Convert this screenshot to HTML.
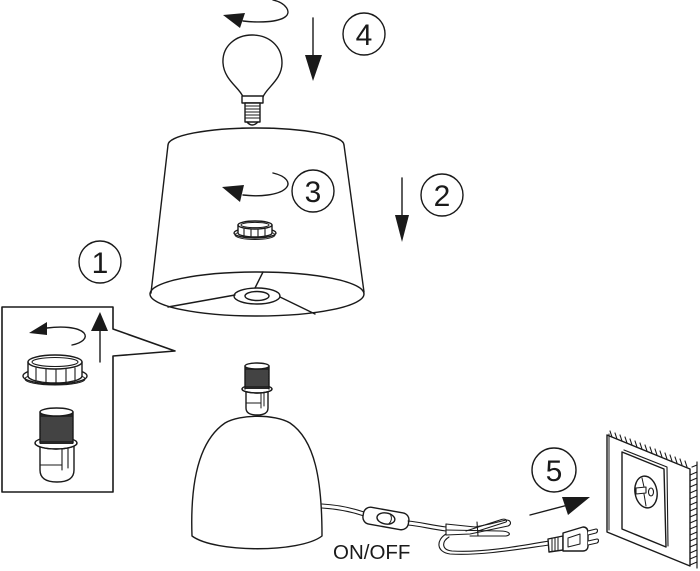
<!DOCTYPE html>
<html><head><meta charset="utf-8"><style>
html,body{margin:0;padding:0;background:#fff;}
svg{display:block;}
text{font-family:"Liberation Sans",sans-serif;fill:#1a1a1a;}
</style></head><body>
<svg width="700" height="571" viewBox="0 0 700 571" xmlns="http://www.w3.org/2000/svg">
<g fill="none" stroke="#1a1a1a" stroke-width="1.4" stroke-linejoin="round" stroke-linecap="round">

<!-- ===== Bulb ===== -->
<path d="M243,97 C240,88 224,80 223,63 C222,46 236,35 252,35 C269,35 282,46 282,63 C282,80 266,88 263,97 Z" fill="#fff"/>
<rect x="242" y="96" width="21" height="7" fill="#fff"/>
<rect x="245" y="103" width="15" height="19" fill="#fff"/>
<g stroke-width="1.1">
<line x1="245" y1="106" x2="260" y2="106"/><line x1="245" y1="109" x2="260" y2="109"/>
<line x1="245" y1="112" x2="260" y2="112"/><line x1="245" y1="115" x2="260" y2="115"/>
<line x1="245" y1="118" x2="260" y2="118"/>
</g>
<path d="M247,122 Q252,128 258,122"/>

<!-- rotate arrow top -->
<path d="M273,0 C286,3 292,12 285,17 C278,22 260,23 243,21"/>
<polygon points="223,15 245,13 240,28" fill="#1a1a1a" stroke="none"/>

<!-- arrow 4 -->
<line x1="313" y1="18" x2="313" y2="58"/>
<polygon points="305,55 322,55 313,81" fill="#1a1a1a" stroke="none"/>
<circle cx="364" cy="34" r="21"/>

<!-- ===== Shade ===== -->
<path d="M168,145 A88,17 0 0 1 344,145"/>
<line x1="168" y1="145" x2="151" y2="293"/>
<line x1="344" y1="145" x2="364" y2="292"/>
<ellipse cx="257" cy="294" rx="107" ry="22"/>
<ellipse cx="257" cy="296" rx="23" ry="8"/>
<ellipse cx="257" cy="296" rx="12" ry="4.5"/>
<line x1="255" y1="288" x2="263" y2="272"/>
<line x1="235" y1="295" x2="168" y2="307"/>
<line x1="280" y1="297" x2="315" y2="314"/>

<!-- ring nut on shade -->
<ellipse cx="255" cy="233" rx="21" ry="5" fill="#fff"/>
<ellipse cx="255" cy="235" rx="20" ry="4.5" stroke-width="1"/>
<path d="M238,225 L238,233 A17,4 0 0 0 272,233 L272,225" fill="#fff"/>
<ellipse cx="255" cy="225" rx="17" ry="4" fill="#fff"/>
<ellipse cx="255" cy="225" rx="14" ry="2.6" stroke-width="1"/>
<g stroke-width="1.1">
<line x1="244" y1="229" x2="244" y2="236"/><line x1="251" y1="229" x2="251" y2="237"/>
<line x1="258" y1="229" x2="258" y2="237"/><line x1="265" y1="229" x2="265" y2="236"/>
</g>

<!-- rotate arrow 3 -->
<path d="M273,173 C286,176 292,183 285,189 C278,195 260,197 243,195"/>
<polygon points="222,187 244,185 240,202" fill="#1a1a1a" stroke="none"/>
<circle cx="313" cy="191" r="21"/>

<!-- arrow 2 -->
<line x1="402" y1="178" x2="402" y2="218"/>
<polygon points="395,215 409,215 402,242" fill="#1a1a1a" stroke="none"/>
<circle cx="442" cy="195" r="21"/>

<!-- circle 1 -->
<circle cx="100" cy="262" r="21"/>

<!-- ===== Callout box ===== -->
<path d="M2,307 L113,307 L113,329 L175,351 L113,356 L113,492 L2,492 Z" stroke-width="1.6"/>
<line x1="100" y1="362" x2="100" y2="330"/>
<polygon points="100,312 91,331 108,331" fill="#1a1a1a" stroke="none"/>
<path d="M72,345 C82,343 88,338 84,333 C78,327 62,326 47,328"/>
<polygon points="29,333 47,322 47,335" fill="#1a1a1a" stroke="none"/>

<!-- ring nut in box -->
<ellipse cx="55" cy="376" rx="32" ry="8" fill="#fff"/>
<ellipse cx="55" cy="379" rx="30" ry="6" stroke-width="1"/>
<path d="M28,362 L28,376 A27,7 0 0 0 82,376 L82,362" fill="#fff"/>
<ellipse cx="55" cy="362" rx="27" ry="7" fill="#fff"/>
<ellipse cx="55" cy="362" rx="23" ry="4.5" stroke-width="1.1"/>
<g stroke-width="1.1">
<line x1="36" y1="368" x2="36" y2="380"/><line x1="46" y1="369" x2="46" y2="382"/>
<line x1="56" y1="369" x2="56" y2="383"/><line x1="66" y1="369" x2="66" y2="382"/>
<line x1="75" y1="368" x2="75" y2="380"/>
</g>

<!-- socket in box -->
<path d="M40,445 L40,470 C40,478 46,482 57,482 C68,482 74,478 74,470 L74,445" fill="#fff"/>
<line x1="40" y1="465" x2="62" y2="465" stroke-width="1.1"/>
<line x1="62" y1="447" x2="62" y2="470" stroke-width="1.1"/>
<line x1="68" y1="447" x2="68" y2="468" stroke-width="1.1"/>
<ellipse cx="56" cy="443" rx="21" ry="6" fill="#fff"/>
<rect x="40" y="412" width="33" height="32" fill="#262626" stroke="none"/>
<line x1="40" y1="412" x2="40" y2="443"/><line x1="73" y1="412" x2="73" y2="443"/>
<g stroke="#9a9a9a" stroke-width="0.6">
<line x1="41" y1="418" x2="72" y2="418"/><line x1="41" y1="420" x2="72" y2="420"/>
<line x1="41" y1="422" x2="72" y2="422"/><line x1="41" y1="424" x2="72" y2="424"/>
<line x1="41" y1="426" x2="72" y2="426"/><line x1="41" y1="428" x2="72" y2="428"/>
<line x1="41" y1="430" x2="72" y2="430"/><line x1="41" y1="432" x2="72" y2="432"/>
<line x1="41" y1="434" x2="72" y2="434"/><line x1="41" y1="436" x2="72" y2="436"/>
<line x1="41" y1="438" x2="72" y2="438"/><line x1="41" y1="440" x2="72" y2="440"/>
</g>
<path d="M35,443 A21,6 0 0 0 77,443" fill="none"/>
<ellipse cx="56.5" cy="412" rx="16.5" ry="4" fill="#fff"/>

<!-- ===== Lamp base ===== -->
<path d="M192,536 C190,480 200,440 225,423 C240,414 275,414 290,423 C315,440 322,480 322,536 C300,553 215,553 192,536 Z" fill="#fff"/>

<!-- socket on base -->
<path d="M246,391 L246,408 C246,413 250,415 257,415 C264,415 268,413 268,408 L268,391" fill="#fff"/>
<line x1="261" y1="392" x2="261" y2="408" stroke-width="1"/>
<line x1="264" y1="392" x2="264" y2="406" stroke-width="1"/>
<line x1="246" y1="403" x2="261" y2="403" stroke-width="1"/>
<ellipse cx="257" cy="389" rx="15" ry="4" fill="#fff"/>
<rect x="245" y="366" width="24" height="23" fill="#262626" stroke="none"/>
<line x1="245" y1="366" x2="245" y2="389"/><line x1="269" y1="366" x2="269" y2="389"/>
<g stroke="#9a9a9a" stroke-width="0.6">
<line x1="246" y1="371" x2="268" y2="371"/><line x1="246" y1="373" x2="268" y2="373"/>
<line x1="246" y1="375" x2="268" y2="375"/><line x1="246" y1="377" x2="268" y2="377"/>
<line x1="246" y1="379" x2="268" y2="379"/><line x1="246" y1="381" x2="268" y2="381"/>
<line x1="246" y1="383" x2="268" y2="383"/><line x1="246" y1="385" x2="268" y2="385"/>
</g>
<path d="M242,389 A15,4 0 0 0 272,389"/>
<ellipse cx="257" cy="366" rx="12" ry="3" fill="#fff"/>

<!-- cord to switch -->
<g stroke-width="1.1">
<path d="M322,504 C340,505 352,508 364,512"/>
<path d="M322,508 C340,509 352,512 364,516"/>
</g>
<!-- switch -->
<g transform="rotate(10 386 518)">
<rect x="363" y="510" width="46" height="17" rx="7" fill="#fff"/>
<ellipse cx="386" cy="518.5" rx="9" ry="5.5"/>
<path d="M390,514 Q393,518.5 390,523" stroke-width="1"/>
</g>
<!-- cord switch -> bundle -->
<g stroke-width="1.1">
<path d="M408,521 C420,522 430,525 446,527"/>
<path d="M408,525 C420,526 430,529 446,531"/>
</g>
<!-- bundle -->
<g stroke-width="1.1">
<path d="M446,524 L475,527 L490,524 L506,520 C511,520 512,524 508,526 L470,534 L446,535"/>
<path d="M446,530 L500,531 C510,531 512,535 506,536 L470,536"/>
<path d="M466,531 L500,520 C505,518 508,520 506,522 L478,531"/>
<line x1="446" y1="524" x2="446" y2="535"/>
<line x1="477" y1="522" x2="478" y2="536"/>
</g>
<!-- loop to plug -->
<g stroke-width="1.1">
<path d="M446,534 C436,540 436,552 450,554 C480,556 520,549 549,545"/>
<path d="M449,537 C441,542 442,550 452,551 C482,553 520,546 549,541"/>
</g>
<!-- plug -->
<path d="M548,539 L563,536 L563,550 L549,552 Z" fill="#fff"/>
<g stroke-width="1">
<line x1="552" y1="538" x2="552" y2="551"/><line x1="555" y1="538" x2="555" y2="551"/>
<line x1="558" y1="537" x2="558" y2="550"/>
</g>
<path d="M563,533 L583,527 C587,527 588,530 588,533 L588,546 C588,549 586,551 583,551 L563,551 Z" fill="#fff"/>
<path d="M568,538 L580,534 L580,544 L568,547 Z" stroke-width="1"/>
<path d="M588,531 L596,529 C598,529 598,532 596,533 L588,535" fill="#fff" stroke-width="1.1"/>
<path d="M588,541 L597,539 C599,539 599,542 597,543 L588,545" fill="#fff" stroke-width="1.1"/>

<!-- arrow 5 -->
<line x1="530" y1="515" x2="568" y2="505"/>
<polygon points="590,497 562,497 568,515" fill="#1a1a1a" stroke="none"/>
<circle cx="554" cy="470" r="22"/>

<!-- ===== Wall socket ===== -->
<path d="M607,435 L690,469 L690,566 L607,532 Z" fill="#fff"/>
<line x1="609" y1="434" x2="609" y2="530" stroke-width="1"/>
<g stroke-width="1.1">
<line x1="612" y1="437" x2="610" y2="431"/><line x1="617" y1="439" x2="615" y2="433"/>
<line x1="622" y1="441" x2="620" y2="435"/><line x1="627" y1="443" x2="625" y2="437"/>
<line x1="632" y1="445" x2="630" y2="439"/><line x1="637" y1="447" x2="635" y2="441"/>
<line x1="642" y1="449" x2="640" y2="443"/><line x1="647" y1="451" x2="645" y2="445"/>
<line x1="652" y1="453" x2="650" y2="447"/><line x1="657" y1="455" x2="655" y2="449"/>
<line x1="662" y1="457" x2="660" y2="451"/><line x1="667" y1="459" x2="665" y2="453"/>
<line x1="672" y1="461" x2="670" y2="455"/><line x1="677" y1="463" x2="675" y2="457"/>
<line x1="682" y1="465" x2="680" y2="459"/><line x1="687" y1="467" x2="685" y2="461"/>
<line x1="692" y1="467" x2="697" y2="465"/>
</g>
<line x1="697" y1="462" x2="697" y2="568" stroke-width="1.2"/>
<g stroke-width="1.1">
<line x1="690" y1="475" x2="697" y2="472"/><line x1="690" y1="481" x2="697" y2="478"/>
<line x1="690" y1="487" x2="697" y2="484"/><line x1="690" y1="493" x2="697" y2="490"/>
<line x1="690" y1="499" x2="697" y2="496"/><line x1="690" y1="505" x2="697" y2="502"/>
<line x1="690" y1="511" x2="697" y2="508"/><line x1="690" y1="517" x2="697" y2="514"/>
<line x1="690" y1="523" x2="697" y2="520"/><line x1="690" y1="529" x2="697" y2="526"/>
<line x1="690" y1="535" x2="697" y2="532"/><line x1="690" y1="541" x2="697" y2="538"/>
<line x1="690" y1="547" x2="697" y2="544"/><line x1="690" y1="553" x2="697" y2="550"/>
<line x1="690" y1="559" x2="697" y2="556"/><line x1="690" y1="565" x2="697" y2="562"/>
</g>
<path d="M622,452 L664,469 L666,547 L622,529 Z"/>
<path d="M624,450 L667,467 L668,546" stroke-width="1.1"/>
<ellipse cx="646" cy="492" rx="11" ry="16" transform="rotate(-10 646 492)"/>
<path d="M636,488 L646,487 L646,493 L636,494 Z" fill="#fff" stroke-width="1.1"/>
<ellipse cx="651" cy="492" rx="2.5" ry="4" stroke-width="1.1"/>
<line x1="642" y1="478" x2="644" y2="487" stroke-width="1"/>
<line x1="644" y1="494" x2="646" y2="506" stroke-width="1"/>
</g>

<!-- ===== Numbers / labels ===== -->
<text x="364" y="45" font-size="30" text-anchor="middle">4</text>
<text x="313" y="202" font-size="30" text-anchor="middle">3</text>
<text x="442" y="206" font-size="30" text-anchor="middle">2</text>
<text x="100" y="273" font-size="30" text-anchor="middle">1</text>
<text x="554" y="481" font-size="30" text-anchor="middle">5</text>
<text x="333" y="559" font-size="20.5">ON/OFF</text>
</svg>
</body></html>
